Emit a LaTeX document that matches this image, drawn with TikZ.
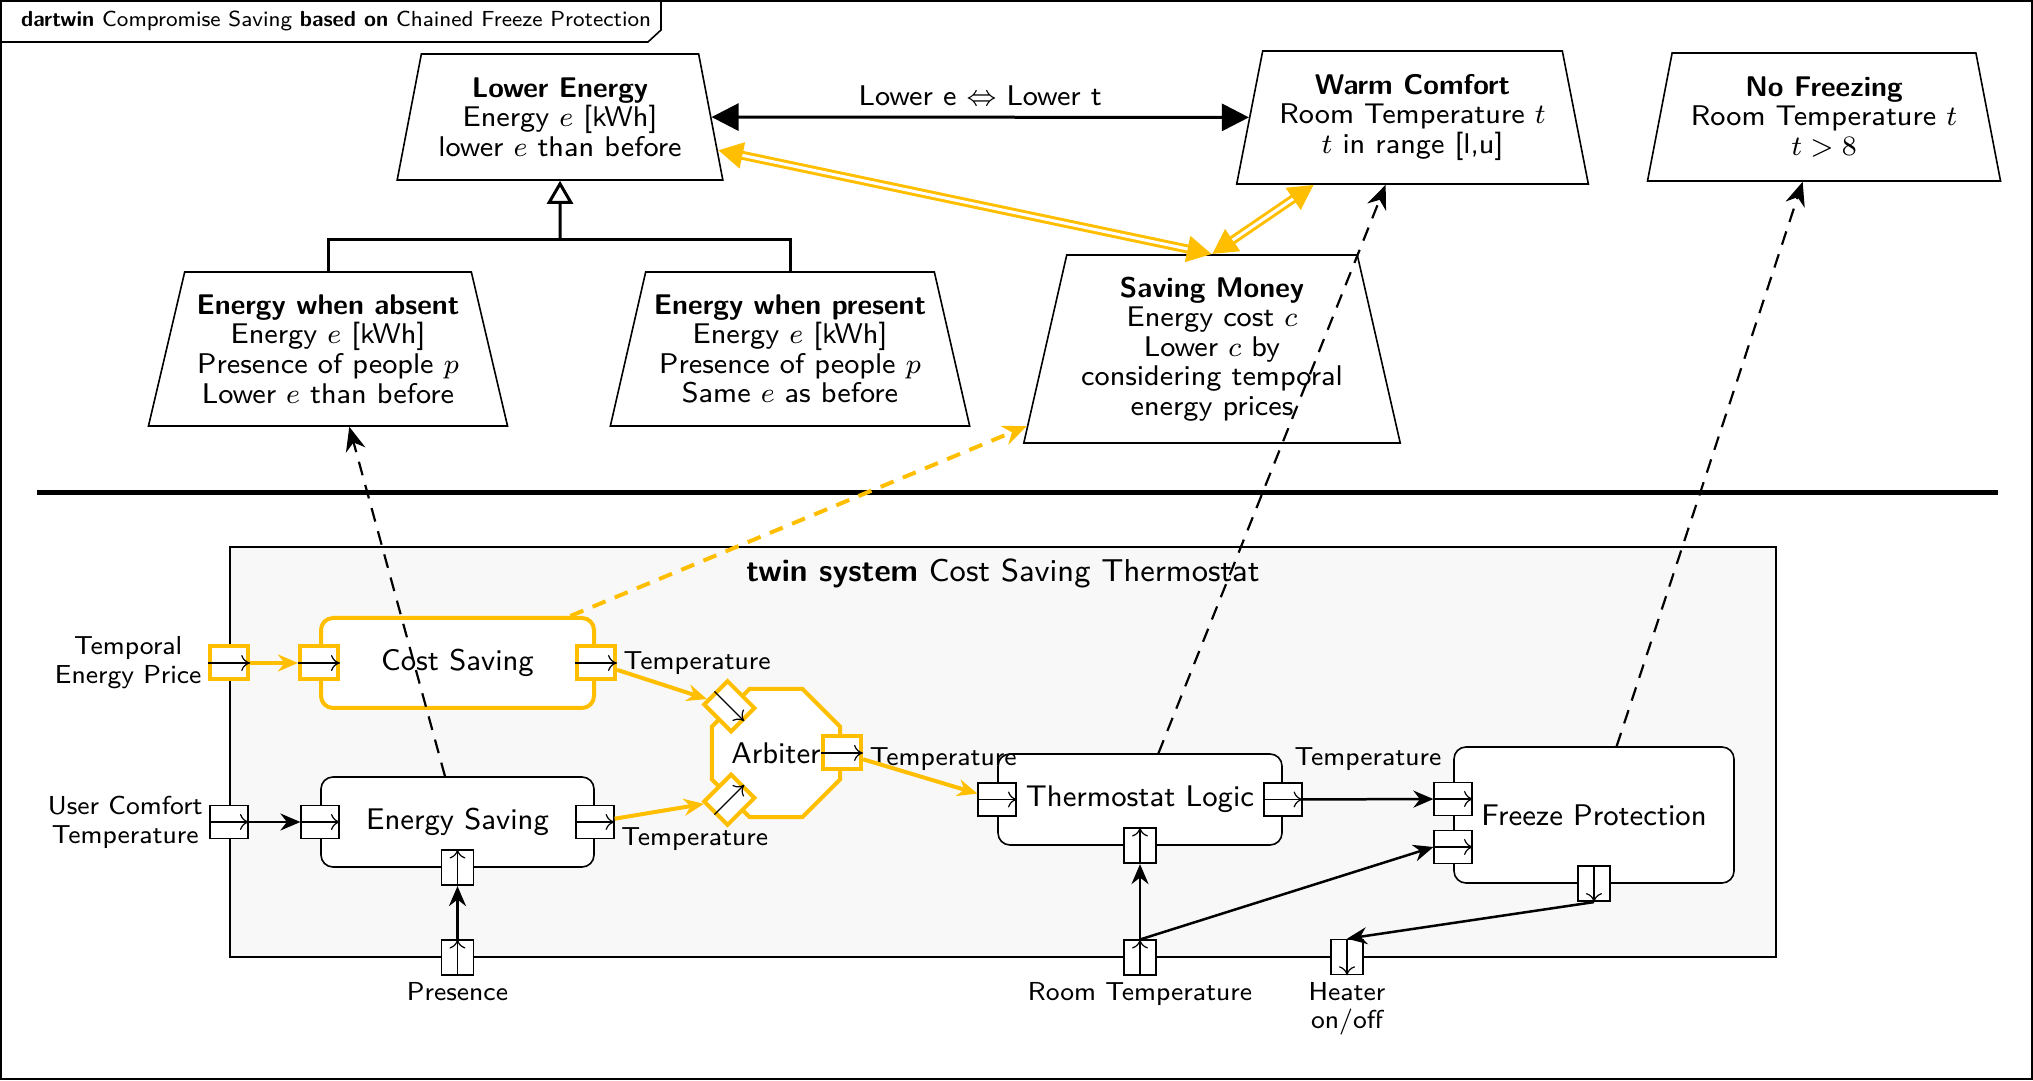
\documentclass[tikz,border=0pt]{standalone}
\usepackage{amsmath}
\usetikzlibrary{shapes.geometric,arrows.meta,calc}
\renewcommand{\familydefault}{\sfdefault}

\begin{document}
\begin{tikzpicture}[
    goal/.style={draw, line width=0.016cm, fill=white, trapezium, trapezium left angle=75, trapezium right angle=75, trapezium stretches=true, align=center, inner sep=0cm, font=\fontsize{8.1}{8.4}\selectfont},
    block/.style={draw, line width=0.016cm, fill=white, rounded corners=0.120000cm, font=\fontsize{8.5}{10}\selectfont},
    yblock/.style={block, draw=r255g191b0, line width=0.040000cm},
    system/.style={draw, line width=0.016cm, fill=r248g248b248},
    port/.style={draw, line width=0.016cm, fill=white, minimum width=0.380000cm, minimum height=0.330000cm, inner sep=0cm},
    vport/.style={port, minimum width=0.320000cm, minimum height=0.350000cm},
    yport/.style={port, draw=r255g191b0, line width=0.040000cm},
    parrow/.style={line width=0.012cm, -{To[length=0.090000cm, width=0.160000cm]}},
    plabel/.style={inner sep=0.060000cm, font=\fontsize{7.4}{8.2}\selectfont},
    conn/.style={line width=0.025cm, -{Stealth[length=0.200000cm, width=0.170000cm]}},
    yconn/.style={conn, color=r255g191b0, line width=0.040000cm},
    trace/.style={line width=0.022000cm, dash pattern=on 0.14cm off 0.10cm, -{Stealth[length=0.240000cm, width=0.200000cm]}},
    ytrace/.style={trace, color=r255g191b0, line width=0.040000cm},
    contrib/.style={color=r255g191b0, line width=0.090000cm, {Triangle[length=0.250000cm, width=0.250000cm]}-{Triangle[length=0.250000cm, width=0.250000cm]}},
    contribgap/.style={white, line width=0.030000cm, shorten <=0.250000cm, shorten >=0.250000cm},
  ]
        \useasboundingbox (0,0) rectangle (20.330000,10.800000);
        {\fontsize{8.1}{8.4}\selectfont

        % Changing color 255 191 0 and 248 248 248
        \definecolor{r255g191b0}{rgb}{1.000000,0.749020,0.000000}%
        \definecolor{r248g248b248}{rgb}{0.972549,0.972549,0.972549}%

        % Drawing frame and title tab
        \draw [line width=0.016cm] (0.010000,0.010000) rectangle (20.320000,10.790000);%
        \draw [line width=0.016cm] (0.010000,10.380000) -- (6.480000,10.380000) -- (6.610000,10.500000) -- (6.610000,10.790000);%
        \node [anchor=west, font=\fontsize{6.2}{7.4}\selectfont] (title) at (0.110000,10.590000) {\textbf{dartwin} Compromise Saving \textbf{based on} Chained Freeze Protection};%

        % Drawing goals
        \node [goal, minimum width=3.260000cm, minimum height=1.260000cm] (le) at (5.600000,9.630000) {\textbf{Lower Energy}\\Energy $e$ [kWh]\\lower $e$ than before};%
        \node [goal, minimum width=3.530000cm, minimum height=1.330000cm] (wc) at (14.125000,9.625000) {\textbf{Warm Comfort}\\Room Temperature $t$\\$t$ in range [l,u]};%
        \node [goal, minimum width=3.550000cm, minimum height=1.280000cm] (nf) at (18.240000,9.630000) {\textbf{No Freezing}\\Room Temperature $t$\\$t > 8$};%
        \node [goal, trapezium left angle=73, trapezium right angle=73, minimum width=3.620000cm, minimum height=1.540000cm] (ewa) at (3.280000,7.310000) {\textbf{Energy when absent}\\Energy $e$ [kWh]\\Presence of people $p$\\Lower $e$ than before};%
        \node [goal, trapezium left angle=73, trapezium right angle=73, minimum width=3.620000cm, minimum height=1.540000cm] (ewp) at (7.900000,7.310000) {\textbf{Energy when present}\\Energy $e$ [kWh]\\Presence of people $p$\\Same $e$ as before};%
        \node [goal, minimum width=3.790000cm, minimum height=1.880000cm] (sm) at (12.120000,7.310000) {\textbf{Saving Money}\\Energy cost $c$\\Lower $c$ by\\considering temporal\\energy prices};%

        % Drawing refinement of Lower Energy
        \coordinate (join) at (5.600000,8.400000);%
        \draw [line width=0.030000cm] (ewa.north) |- (join) -| (ewp.north);%
        \draw [line width=0.030000cm, -{Triangle[open, length=0.230000cm, width=0.260000cm, fill=white]}] (join) -- (le.south);%

        % Drawing relation Lower e h Lower t
        \draw [line width=0.030000cm, {Triangle[length=0.270000cm, width=0.270000cm]}-{Triangle[length=0.270000cm, width=0.270000cm]}] (le) -- (wc) node [midway, above, inner sep=0.100000cm] (tradeoff) {Lower e $\Leftrightarrow$ Lower t};%

        % Drawing contributions to Saving Money
        \draw [contrib] (le) -- (sm.north);%
        \draw [contribgap] (le) -- (sm.north);%
        \draw [contrib] (wc) -- (sm.north);%
        \draw [contribgap] (wc) -- (sm.north);%

        % Drawing line separator
        \draw [line width=0.050000cm] (0.370000,5.870000) -- (19.980000,5.870000);%

        % Drawing twin system
        \node [system, minimum width=15.460000cm, minimum height=4.100000cm] (sys) at (10.030000,3.280000) {};%
        \node [font=\fontsize{9}{11}\selectfont] (systitle) at (10.030000,5.070000) {\textbf{twin system} Cost Saving Thermostat};%

        % Drawing blocks
        \node [yblock, minimum width=2.730000cm, minimum height=0.900000cm] (cs) at (4.575000,4.170000) {Cost Saving};%
        \node [block, minimum width=2.730000cm, minimum height=0.900000cm] (es) at (4.575000,2.580000) {Energy Saving};%
        \node [draw=r255g191b0, line width=0.040000cm, fill=white, regular polygon, regular polygon sides=8, minimum size=1.386000cm, inner sep=0cm, font=\fontsize{8.5}{10}\selectfont] (arb) at (7.760000,3.270000) {Arbiter};%
        \node [block, minimum width=2.840000cm, minimum height=0.910000cm] (tl) at (11.400000,2.805000) {Thermostat Logic};%
        \node [block, minimum width=2.800000cm, minimum height=1.360000cm] (fp) at (15.940000,2.650000) {Freeze Protection};%

        % Marking ports
        \node [yport] (csin) at (cs.west) {};%
        \node [yport] (csout) at (cs.east) {};%
        \node [port] (esin) at (es.west) {};%
        \node [port] (esout) at (es.east) {};%
        \node [vport] (espres) at (es.south) {};%
        \node [yport, rotate=-45] (arbin1) at (arb.135) {};%
        \node [yport, rotate=45] (arbin2) at (arb.225) {};%
        \node [yport] (arbout) at (arb.east) {};%
        \node [port] (tlin) at (tl.west) {};%
        \node [port] (tlout) at (tl.east) {};%
        \node [vport] (tlt) at (tl.south) {};%
        \node [port] (fpin1) at ($(fp.west)+(0,0.160000)$) {};%
        \node [port] (fpin2) at ($(fp.west)+(0,-0.320000)$) {};%
        \node [vport] (fpout) at (fp.south) {};%
        \node [yport] (tep) at (sys.west |- csin) {};%
        \node [port] (uct) at (sys.west |- esin) {};%
        \node [vport] (pres) at (espres |- sys.south) {};%
        \node [vport] (roomt) at (tlt |- sys.south) {};%
        \node [vport] (heat) at (13.470000,1.230000) {};%
        \foreach \p in {tep,uct,csin,csout,esin,esout,arbin1,arbin2,arbout,tlin,tlout,fpin1,fpin2}
          \draw [parrow] (\p.west) -- (\p.east);%
        \foreach \p in {pres,espres,roomt,tlt}
          \draw [parrow] (\p.south) -- (\p.north);%
        \foreach \p in {fpout,heat}
          \draw [parrow] (\p.north) -- (\p.south);%

        % Drawing port labels
        \node [plabel, left, align=center] (teplabel) at (tep.west) {Temporal\\Energy Price};%
        \node [plabel, left, align=center] (uctlabel) at (uct.west) {User Comfort\\Temperature};%
        \node [plabel, below] (preslabel) at (pres.south) {Presence};%
        \node [plabel, below] (roomtlabel) at (roomt.south) {Room Temperature};%
        \node [plabel, below, align=center] (heatlabel) at (heat.south) {Heater\\on/off};%
        \node [plabel, right] (cstemp) at (csout.east) {Temperature};%
        \node [plabel, right] (estemp) at (esout.south east) {Temperature};%
        \node [plabel, right] (arbtemp) at ($(arbout.east)+(0,-0.060000)$) {Temperature};%
        \node [plabel, above, yshift=0.050000cm] (tltemp) at ($(tlout.north east)!0.5!(fpin1.north west)$) {Temperature};%

        % Drawing flows
        \draw [yconn] (tep) -- (csin);%
        \draw [yconn] (csout) -- (arbin1);%
        \draw [yconn] (esout) -- (arbin2);%
        \draw [yconn] (arbout) -- (tlin);%
        \draw [conn] (uct) -- (esin);%
        \draw [conn] (pres) -- (espres);%
        \draw [conn] (roomt) -- (tlt);%
        \draw [conn] (roomt.north) -- (fpin2.west);%
        \draw [conn] (tlout) -- (fpin1);%
        \draw [conn] (fpout.south) -- (heat.north);%

        % Drawing traces to goals
        \draw [trace] (es) -- (ewa);%
        \draw [trace] (tl) -- (wc);%
        \draw [trace] (fp) -- (nf);%
        \draw [ytrace] (cs) -- (sm);%
        }
\end{tikzpicture}
\end{document}
